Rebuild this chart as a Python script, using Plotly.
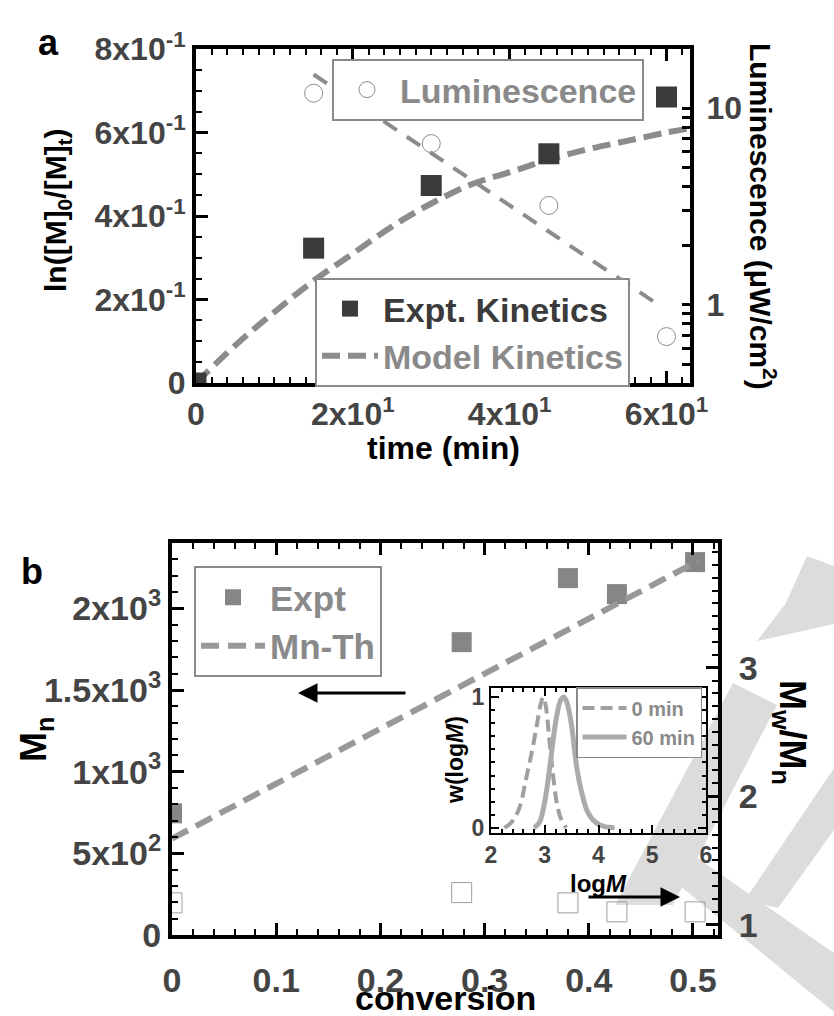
import plotly.graph_objects as go

# ---------------- data ----------------
# panel a
t_expt = [0, 15, 30, 45, 60]
ln_expt = [0.0, 0.323, 0.473, 0.549, 0.685]
t_model = [0, 5, 10, 15, 20, 25, 30, 35, 40, 45, 50, 55, 60, 63]
ln_model = [0.0, 0.09, 0.17, 0.245, 0.31, 0.375, 0.43, 0.475, 0.505, 0.535, 0.56, 0.58, 0.60, 0.61]
t_lum = [15, 30, 45, 60]
lum = [11.9, 6.6, 3.2, 0.69]
t_lum_fit = [15, 59]
lum_fit = [14.8, 1.0]

# panel b
conv = [0.0, 0.278, 0.38, 0.427, 0.502]
mn_expt = [745, 1793, 2185, 2087, 2283]
conv_th = [0.0, 0.505]
mn_th = [590, 2290]
disp = [1.17, 1.25, 1.17, 1.10, 1.10]

# inset GPC traces
logM_0 = [2.25, 2.35, 2.45, 2.55, 2.65, 2.75, 2.85, 2.92, 2.97, 3.02, 3.08, 3.15, 3.22, 3.3, 3.4]
w_0 = [0.0, 0.03, 0.08, 0.18, 0.37, 0.56, 0.78, 0.94, 1.0, 0.93, 0.7, 0.42, 0.2, 0.07, 0.0]
logM_60 = [2.8, 2.9, 3.0, 3.08, 3.15, 3.22, 3.3, 3.36, 3.42, 3.5, 3.6, 3.7, 3.8, 3.95, 4.1, 4.3]
w_60 = [0.0, 0.04, 0.2, 0.42, 0.65, 0.85, 0.98, 1.0, 0.95, 0.78, 0.45, 0.25, 0.12, 0.04, 0.01, 0.0]

# tick labels
xa_vals = [0, 20, 40, 60]
xa_text = ["0", "2x10<sup>1</sup>", "4x10<sup>1</sup>", "6x10<sup>1</sup>"]
ya_vals = [0, 0.2, 0.4, 0.6, 0.8]
ya_text = ["0", "2x10<sup>-1</sup>", "4x10<sup>-1</sup>", "6x10<sup>-1</sup>", "8x10<sup>-1</sup>"]
lum_vals = [0.5, 0.6, 0.7, 0.8, 0.9, 1, 2, 3, 4, 5, 6, 7, 8, 9, 10, 20]
lum_text = ["", "", "", "", "", "1", "", "", "", "", "", "", "", "", "10", ""]
xb_vals = [0, 0.1, 0.2, 0.3, 0.4, 0.5]
xb_text = ["0", "0.1", "0.2", "0.3", "0.4", "0.5"]
yb_vals = [0, 500, 1000, 1500, 2000]
yb_text = ["0", "5x10<sup>2</sup>", "1x10<sup>3</sup>", "1.5x10<sup>3</sup>", "2x10<sup>3</sup>"]
d_vals = [1, 2, 3, 4]
d_text = ["1", "2", "3", "4"]
xi_vals = [2, 3, 4, 5, 6]
yi_vals = [0, 1]

# ---------------- style ----------------
W, H = 834, 1016
FONT = "Liberation Sans, Arial, sans-serif"


def px(x):
    return x / W


def py(y):
    return 1 - y / H


DARK = "#3b3b3b"
GRAY = "#8c8c8c"

fig = go.Figure()

# ---- panel a traces ----
fig.add_trace(go.Scatter(
    x=t_model, y=ln_model, mode="lines", xaxis="x", yaxis="y",
    line=dict(color=GRAY, width=6, dash="18px,8px", shape="spline"),
    name="Model Kinetics", legend="legend2", legendrank=2))
fig.add_trace(go.Scatter(
    x=t_expt, y=ln_expt, mode="markers", xaxis="x", yaxis="y",
    marker=dict(symbol="square", size=21, color=DARK),
    name="<span style='color:#3b3b3b'>Expt. Kinetics</span>", legend="legend2",
    legendrank=1))
fig.add_trace(go.Scatter(
    x=t_lum_fit, y=lum_fit, mode="lines", xaxis="x", yaxis="y2",
    line=dict(color=GRAY, width=4, dash="16px,12px"), showlegend=False))
fig.add_trace(go.Scatter(
    x=t_lum, y=lum, mode="markers", xaxis="x", yaxis="y2",
    marker=dict(symbol="circle-open", size=18, color=GRAY),
    name="Luminescence", legend="legend"))

# ---- panel b traces ----
fig.add_trace(go.Scatter(
    x=conv, y=mn_expt, mode="markers", xaxis="x2", yaxis="y3",
    marker=dict(symbol="square", size=20, color="#868686"),
    name="Expt", legend="legend3"))
fig.add_trace(go.Scatter(
    x=conv_th, y=mn_th, mode="lines", xaxis="x2", yaxis="y3",
    line=dict(color="#999999", width=6, dash="18px,9px"),
    name="Mn-Th", legend="legend3"))
fig.add_trace(go.Scatter(
    x=conv, y=disp, mode="markers", xaxis="x2", yaxis="y4",
    marker=dict(symbol="square-open", size=20, color="#9e9e9e"),
    showlegend=False))

# ---- inset traces ----
fig.add_trace(go.Scatter(
    x=logM_0, y=w_0, mode="lines", xaxis="x3", yaxis="y5",
    line=dict(color="#a0a0a0", width=4, dash="12px,6px", shape="spline"),
    name="0 min", legend="legend4"))
fig.add_trace(go.Scatter(
    x=logM_60, y=w_60, mode="lines", xaxis="x3", yaxis="y5",
    line=dict(color="#ababab", width=5, shape="spline"),
    name="60 min", legend="legend4"))

# ---------------- axes ----------------
base = dict(showgrid=False, zeroline=False, showline=True, linecolor="black", linewidth=4,
            ticks="inside", tickcolor="black", ticklen=12, tickwidth=3)
base_i = dict(showgrid=False, zeroline=False, showline=True, linecolor="black", linewidth=2,
              ticks="inside", tickcolor="black", ticklen=8, tickwidth=2)
mn = dict(ticks="inside", ticklen=6, tickwidth=2, tickcolor="black")
mn_i = dict(ticks="inside", ticklen=4, tickwidth=1.5, tickcolor="black")
font_a = dict(family=FONT, size=32, weight="bold")
font_b = dict(family=FONT, size=34, weight="bold")
font_i = dict(family=FONT, size=23, weight="bold")

fig.update_layout(
    template="none",
    xaxis=dict(domain=[px(196), px(690)], anchor="y", range=[0, 63], mirror="ticks",
               tickmode="array", tickvals=xa_vals, ticktext=xa_text, tickfont=font_a,
               minor=dict(dtick=2, **mn), **base),
    yaxis=dict(domain=[py(383), py(49)], anchor="x", range=[0, 0.8],
               tickmode="array", tickvals=ya_vals, ticktext=ya_text, tickfont=font_a,
               minor=dict(dtick=0.05, **mn), **base),
    yaxis2=dict(overlaying="y", side="right", anchor="x", type="log", range=[-0.397, 1.30],
                tickmode="array", tickvals=lum_vals, ticktext=lum_text, tickfont=font_a,
                showgrid=False, zeroline=False, showline=True, linecolor="black",
                linewidth=4, ticks="inside", tickcolor="black", ticklen=8, tickwidth=2.5,
                ticklabelstandoff=6),
    xaxis2=dict(domain=[px(172), px(718)], anchor="y3", range=[0, 0.524], mirror="ticks",
                tickmode="array", tickvals=xb_vals, ticktext=xb_text, tickfont=font_b,
                ticklabelstandoff=12, minor=dict(dtick=0.02, **mn), **base),
    yaxis3=dict(domain=[py(935), py(543)], anchor="x2", range=[0, 2400],
                tickmode="array", tickvals=yb_vals, ticktext=yb_text, tickfont=font_b,
                minor=dict(dtick=100, **mn), **base),
    yaxis4=dict(overlaying="y3", side="right", anchor="x2", range=[0.92, 3.97],
                tickmode="array", tickvals=d_vals, ticktext=d_text, tickfont=font_b,
                ticklabelstandoff=10, minor=dict(dtick=0.1, **mn), **base),
    xaxis3=dict(domain=[px(491), px(706)], anchor="y5", range=[2, 6], mirror="ticks",
                tickmode="array", tickvals=xi_vals, tickfont=font_i,
                minor=dict(dtick=0.2, **mn_i), **base_i),
    yaxis5=dict(domain=[py(833), py(688)], anchor="x3", range=[-0.04, 1.07], mirror="ticks",
                tickmode="array", tickvals=yi_vals, tickfont=font_i,
                minor=dict(dtick=0.1, **mn_i), **base_i),
)

# ---------------- legends ----------------
def leg(x, y, size, **kw):
    d = dict(x=x, y=y, xanchor="left", yanchor="top", bgcolor="white",
             bordercolor="#8a8a8a", borderwidth=2,
             font=dict(family=FONT, size=size, color="#8a8a8a", weight="bold"))
    d.update(kw)
    return d


fig.update_layout(
    legend=leg(px(332), py(59), 34, itemwidth=56),
    legend2=leg(px(315), py(278), 34, itemwidth=56),
    legend3=leg(px(194), py(566), 35, itemwidth=64),
    legend4=leg(px(576), py(687), 20, itemwidth=44, borderwidth=1.5),
)

# ---------------- annotations ----------------
def txt(x, y, text, size, angle=0):
    return dict(x=px(x), y=py(y), xref="paper", yref="paper", text=text,
                showarrow=False, textangle=angle, xanchor="center", yanchor="middle",
                font=dict(family=FONT, size=size, color="black", weight="bold"))


def arrow(x_head, y_head, dx_tail):
    return dict(x=px(x_head), y=py(y_head), xref="paper", yref="paper", text="",
                showarrow=True, ax=dx_tail, ay=0, arrowhead=2, arrowsize=1.3,
                arrowwidth=3, arrowcolor="black")


annotations = [
    txt(48, 42, "a", 36),
    txt(32, 571, "b", 36),
    txt(58, 210, "ln([M]<sub>0</sub>/[M]<sub>t</sub>)", 30, -90),
    txt(443, 448, "time (min)", 32),
    txt(763, 216, "Luminescence (\u03bcW/cm<sup>2</sup>)", 30, 90),
    txt(36, 740, "M<sub>n</sub>", 36, -90),
    txt(790, 732, "M<sub>w</sub>/M<sub>n</sub>", 36, 90),
    txt(445, 998, "conversion", 34),
    txt(598, 883, "log<i>M</i>", 24),
    txt(455, 760, "w(log<i>M</i>)", 23, -90),
    arrow(298, 693, 109),
    arrow(680, 897, -93),
]

# ---------------- watermark (light gray decoration) ----------------
def poly(pts):
    s = "M " + " L ".join(f"{px(x):.4f},{py(y):.4f}" for x, y in pts) + " Z"
    return dict(type="path", path=s, xref="paper", yref="paper",
                fillcolor="#dcdcdc", line=dict(width=0), layer="below")


shapes = [
    poly([(807, 556), (834, 566), (834, 624), (757, 641), (786, 603)]),
    poly([(615, 905), (673, 905), (777, 705), (733, 683)]),
    poly([(657, 830), (834, 953), (834, 1012), (668, 876)]),
    poly([(745, 900), (834, 768), (834, 830), (778, 908)]),
]

fig.update_layout(
    width=W, height=H, margin=dict(l=0, r=0, t=0, b=0, autoexpand=False),
    paper_bgcolor="white", plot_bgcolor="rgba(0,0,0,0)",
    annotations=annotations, shapes=shapes,
)

fig.write_html("out.html")
